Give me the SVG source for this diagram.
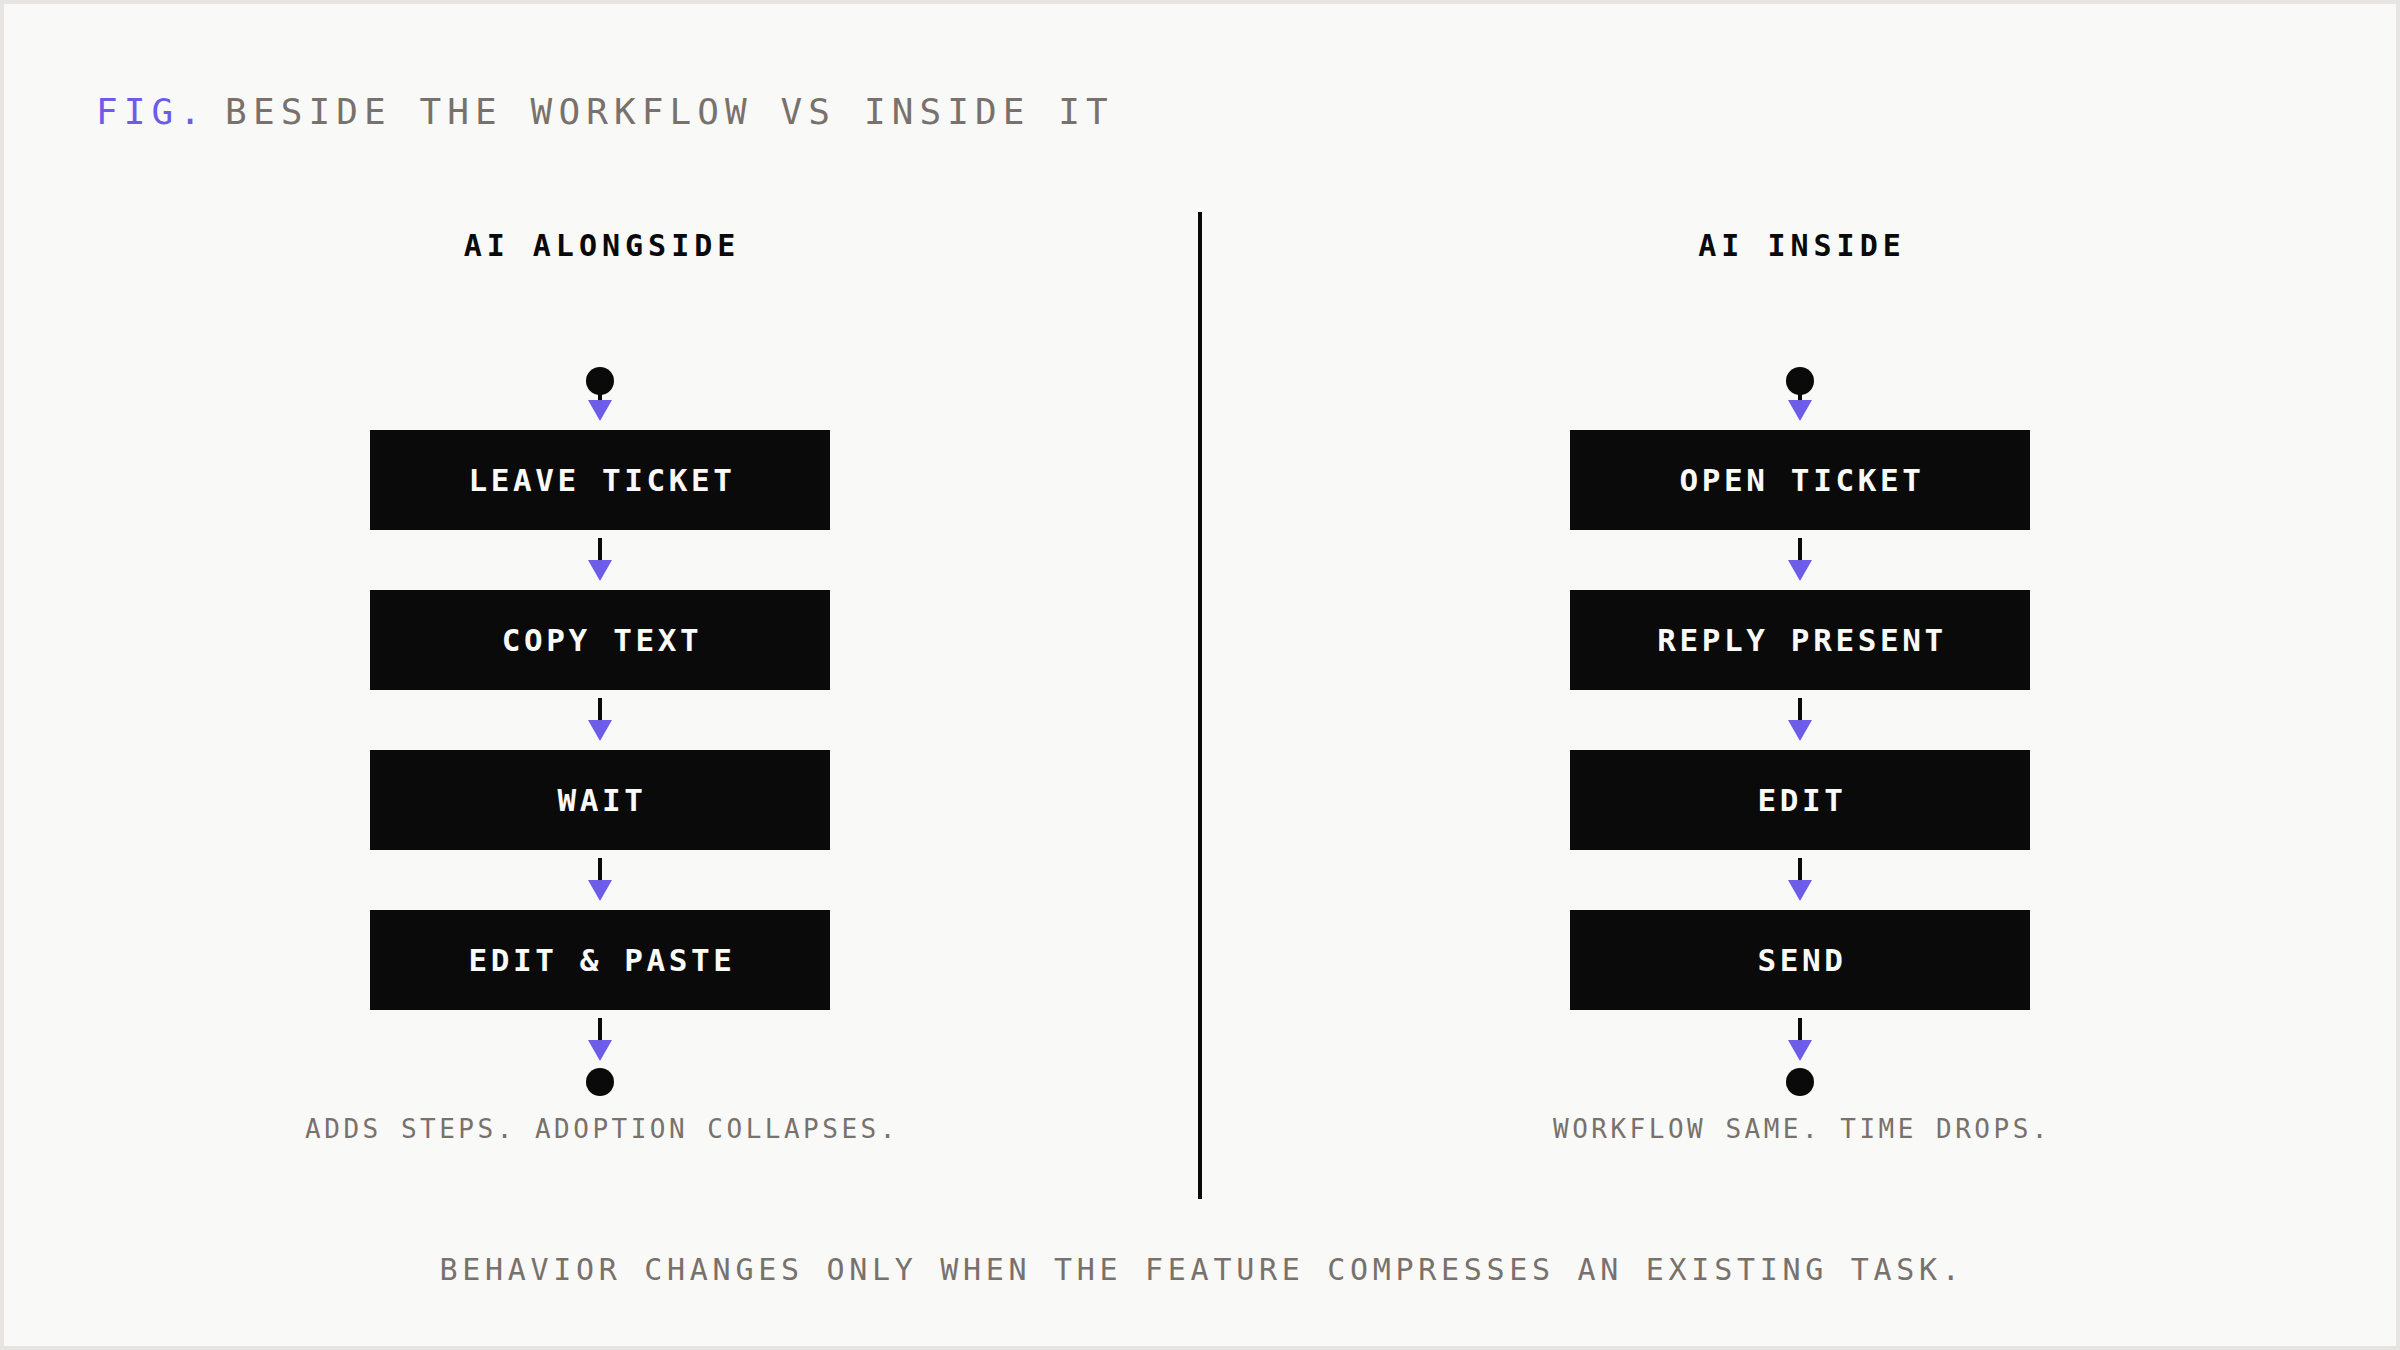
<svg xmlns="http://www.w3.org/2000/svg" width="2400" height="1350" viewBox="0 0 2400 1350">
<defs>
<marker id="ah" markerUnits="userSpaceOnUse" markerWidth="22" markerHeight="24" refX="0" refY="12" orient="auto" viewBox="0 0 22 24">
<path d="M0,0 L21,12 L0,24 z" fill="#6c5ce7"/>
</marker>
<style>
.mono{font-family:"DejaVu Sans Mono","Liberation Mono",monospace;}
.title{font-size:36px;letter-spacing:6.1px;fill:#78716c;}
.fig{fill:#6c5ce7;}
.head{font-size:30px;letter-spacing:5px;font-weight:bold;fill:#0a0a0a;text-anchor:middle;}
.box{fill:#0a0a0a;}
.lbl{font-size:31px;letter-spacing:3.6px;font-weight:600;fill:#fafaf9;text-anchor:middle;}
.cap{font-size:26px;letter-spacing:3.5px;fill:#78716c;text-anchor:middle;}
.foot{font-size:30px;letter-spacing:4.7px;fill:#78716c;text-anchor:middle;}
.con{stroke:#0a0a0a;stroke-width:4;fill:none;marker-end:url(#ah);}
.dot{fill:#0a0a0a;}
</style>
</defs>
<rect x="2" y="2" width="2396" height="1346" fill="#f9f9f7" stroke="#e6e5e2" stroke-width="4"/>
<text class="mono title" x="96" y="124"><tspan class="fig">FIG.</tspan><tspan dx="18">BESIDE THE WORKFLOW VS INSIDE IT</tspan></text>
<line x1="1200" y1="212" x2="1200" y2="1199" stroke="#0a0a0a" stroke-width="4"/>
<text class="mono head" x="602" y="256">AI ALONGSIDE</text>
<text class="mono head" x="1802" y="256">AI INSIDE</text>

<g id="connectors">
<line class="con" x1="600" y1="394" x2="600" y2="400"/>
<line class="con" x1="600" y1="538" x2="600" y2="560"/>
<line class="con" x1="600" y1="698" x2="600" y2="720"/>
<line class="con" x1="600" y1="858" x2="600" y2="880"/>
<line class="con" x1="600" y1="1018" x2="600" y2="1040"/>
<line class="con" x1="1800" y1="394" x2="1800" y2="400"/>
<line class="con" x1="1800" y1="538" x2="1800" y2="560"/>
<line class="con" x1="1800" y1="698" x2="1800" y2="720"/>
<line class="con" x1="1800" y1="858" x2="1800" y2="880"/>
<line class="con" x1="1800" y1="1018" x2="1800" y2="1040"/>
</g>

<g id="l-start"><circle class="dot" cx="600" cy="381" r="14"/></g>
<g id="l-leave"><rect class="box" x="370" y="430" width="460" height="100"/><text class="mono lbl" x="602" y="491">LEAVE TICKET</text></g>
<g id="l-copy"><rect class="box" x="370" y="590" width="460" height="100"/><text class="mono lbl" x="602" y="651">COPY TEXT</text></g>
<g id="l-wait"><rect class="box" x="370" y="750" width="460" height="100"/><text class="mono lbl" x="602" y="811">WAIT</text></g>
<g id="l-edit"><rect class="box" x="370" y="910" width="460" height="100"/><text class="mono lbl" x="602" y="971">EDIT &amp; PASTE</text></g>
<g id="l-end"><circle class="dot" cx="600" cy="1082" r="14"/></g>
<text class="mono cap" x="602" y="1138">ADDS STEPS. ADOPTION COLLAPSES.</text>

<g id="r-start"><circle class="dot" cx="1800" cy="381" r="14"/></g>
<g id="r-open"><rect class="box" x="1570" y="430" width="460" height="100"/><text class="mono lbl" x="1802" y="491">OPEN TICKET</text></g>
<g id="r-reply"><rect class="box" x="1570" y="590" width="460" height="100"/><text class="mono lbl" x="1802" y="651">REPLY PRESENT</text></g>
<g id="r-edit"><rect class="box" x="1570" y="750" width="460" height="100"/><text class="mono lbl" x="1802" y="811">EDIT</text></g>
<g id="r-send"><rect class="box" x="1570" y="910" width="460" height="100"/><text class="mono lbl" x="1802" y="971">SEND</text></g>
<g id="r-end"><circle class="dot" cx="1800" cy="1082" r="14"/></g>
<text class="mono cap" x="1802" y="1138">WORKFLOW SAME. TIME DROPS.</text>

<text class="mono foot" x="1202" y="1280">BEHAVIOR CHANGES ONLY WHEN THE FEATURE COMPRESSES AN EXISTING TASK.</text>
</svg>
